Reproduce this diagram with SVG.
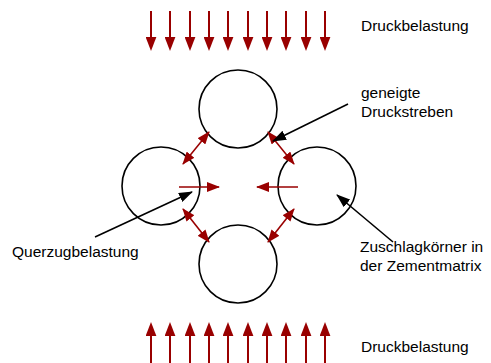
<svg xmlns="http://www.w3.org/2000/svg" width="491" height="363" viewBox="0 0 491 363">
<defs>
<style>
.load{stroke:#990000;stroke-width:2;fill:none;marker-end:url(#bigHead)}
.red{stroke:#990000;stroke-width:1.6;fill:none}
.dbl{marker-start:url(#smallHead);marker-end:url(#smallHead)}
.single{marker-end:url(#smallHead)}
.ptr{stroke:#000;stroke-width:1.6;fill:none;marker-end:url(#blackHead)}
.grain{stroke:#000;stroke-width:1.6;fill:none}
text{font-family:"Liberation Sans",Arial,sans-serif;font-size:15.5px;fill:#000}
</style>
<marker id="bigHead" markerUnits="userSpaceOnUse" markerWidth="14" markerHeight="11" viewBox="0 0 13 10" refX="0" refY="5" orient="auto">
<path d="M0,0 L13,5 L0,10 z" fill="#990000"/>
</marker>
<marker id="smallHead" markerUnits="userSpaceOnUse" markerWidth="13" markerHeight="10" viewBox="0 0 13 10" refX="12" refY="5" orient="auto-start-reverse">
<path d="M0,0 L13,5 L0,10 z" fill="#990000"/>
</marker>
<marker id="blackHead" markerUnits="userSpaceOnUse" markerWidth="14" markerHeight="10" viewBox="0 0 14 10" refX="13" refY="5" orient="auto">
<path d="M0,0 L14,5 L0,10 z" fill="#000"/>
</marker>
</defs>

<g id="top-load">
<line class="load" x1="151" y1="11" x2="151" y2="37"/>
<line class="load" x1="170" y1="11" x2="170" y2="37"/>
<line class="load" x1="190" y1="11" x2="190" y2="37"/>
<line class="load" x1="209" y1="11" x2="209" y2="37"/>
<line class="load" x1="228" y1="11" x2="228" y2="37"/>
<line class="load" x1="248" y1="11" x2="248" y2="37"/>
<line class="load" x1="267" y1="11" x2="267" y2="37"/>
<line class="load" x1="286" y1="11" x2="286" y2="37"/>
<line class="load" x1="306" y1="11" x2="306" y2="37"/>
<line class="load" x1="325" y1="11" x2="325" y2="37"/>
</g>
<g id="bottom-load">
<line class="load" x1="151" y1="363" x2="151" y2="336"/>
<line class="load" x1="170" y1="363" x2="170" y2="336"/>
<line class="load" x1="190" y1="363" x2="190" y2="336"/>
<line class="load" x1="209" y1="363" x2="209" y2="336"/>
<line class="load" x1="228" y1="363" x2="228" y2="336"/>
<line class="load" x1="248" y1="363" x2="248" y2="336"/>
<line class="load" x1="267" y1="363" x2="267" y2="336"/>
<line class="load" x1="286" y1="363" x2="286" y2="336"/>
<line class="load" x1="306" y1="363" x2="306" y2="336"/>
<line class="load" x1="325" y1="363" x2="325" y2="336"/>
</g>

<g id="grain-top"><circle class="grain" cx="238" cy="109" r="39"/></g>
<g id="grain-left"><circle class="grain" cx="161" cy="186" r="39"/></g>
<g id="grain-right"><circle class="grain" cx="317" cy="186" r="39"/></g>
<g id="grain-bottom"><circle class="grain" cx="238" cy="264" r="39"/></g>

<g id="connectors">
<line class="red dbl" x1="209" y1="132" x2="183" y2="164"/>
<line class="red dbl" x1="268" y1="132" x2="294" y2="164"/>
<line class="red dbl" x1="183" y1="209" x2="209" y2="242"/>
<line class="red dbl" x1="294" y1="209" x2="268" y2="242"/>
<line class="red single" x1="179" y1="187" x2="219" y2="187"/>
<line class="red single" x1="298" y1="187" x2="257" y2="187"/>
<line class="ptr" x1="348" y1="104" x2="273" y2="141"/>
<line class="ptr" x1="95" y1="237" x2="192" y2="192"/>
<line class="ptr" x1="393" y1="242" x2="337" y2="195"/>
</g>

<g id="label-top"><text x="361" y="31">Druckbelastung</text></g>
<g id="label-struts"><text x="361" y="98">geneigte</text><text x="361" y="117">Druckstreben</text></g>
<g id="label-tension"><text x="12" y="257">Querzugbelastung</text></g>
<g id="label-grains"><text x="360" y="252">Zuschlagkörner in</text><text x="360" y="271">der Zementmatrix</text></g>
<g id="label-bottom"><text x="361" y="352">Druckbelastung</text></g>
</svg>
